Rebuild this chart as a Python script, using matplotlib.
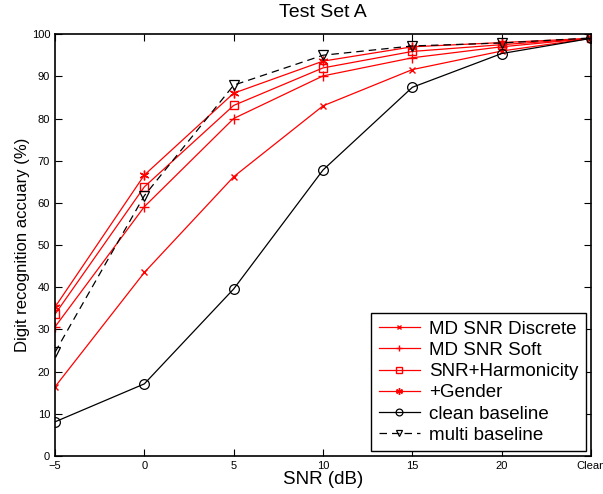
import matplotlib
matplotlib.use("Agg")
import matplotlib.pyplot as plt

plt.rcParams["font.family"] = ["Liberation Sans", "DejaVu Sans"]

snr = [-5, 0, 5, 10, 15, 20, 25]
snr_labels = ["\u22125", "0", "5", "10", "15", "20", "Clean"]

md_snr_discrete = [16.4, 43.5, 66.2, 83.0, 91.6, 96.0, 99.0]
md_snr_soft = [30.6, 59.1, 80.0, 90.1, 94.4, 97.0, 99.0]
snr_harmonicity = [33.6, 63.8, 83.1, 92.0, 95.9, 97.5, 99.0]
gender = [35.3, 66.6, 86.0, 93.6, 97.0, 98.0, 99.0]
clean_baseline = [8.1, 17.1, 39.6, 67.8, 87.4, 95.4, 99.0]
multi_baseline = [24.6, 61.7, 87.9, 95.0, 97.2, 97.9, 99.1]

fig = plt.figure(figsize=(6.03, 4.94), dpi=100)
ax = fig.add_axes([0.0912, 0.0769, 0.889, 0.854])

red = "#ff0000"
ax.plot(snr, md_snr_discrete, color=red, lw=0.9, marker="x", ms=5, mew=1.0, label="MD SNR Discrete")
ax.plot(snr, md_snr_soft, color=red, lw=0.9, marker="+", ms=7, mew=1.0, label="MD SNR Soft")
ax.plot(snr, snr_harmonicity, color=red, lw=0.9, marker="s", ms=6, mew=1.0, mfc="none", label="SNR+Harmonicity")
ax.plot(snr, gender, color=red, lw=0.9, marker=(6, 2, 0), ms=7, mew=1.0, label="+Gender")
ax.plot(snr, clean_baseline, color="k", lw=0.9, marker="o", ms=7, mew=0.9, mfc="none", label="clean baseline")
ax.plot(snr, multi_baseline, color="k", lw=0.9, ls=(0, (6, 4)), marker="v", ms=7, mew=0.9, mfc="none", label="multi baseline")

ax.set_xlim(-5, 25)
ax.set_ylim(0, 100)
ax.set_xticks(snr)
ax.set_xticklabels(snr_labels)
ax.set_yticks(range(0, 101, 10))
ax.tick_params(direction="in", top=True, right=True, labelsize=8, length=5, width=0.8)
for s in ax.spines.values():
    s.set_linewidth(1.2)

ax.set_title("Test Set A", fontsize=14, pad=12)
ax.set_xlabel("SNR (dB)", fontsize=13.5, labelpad=0)
ax.set_ylabel("Digit recognition accuary (%)", fontsize=12, labelpad=1)

leg = ax.legend(loc="lower right", fontsize=13.5, frameon=True, fancybox=False,
                edgecolor="k", framealpha=1, handlelength=2.2, borderpad=0.4,
                labelspacing=0.22, borderaxespad=0.25, handletextpad=0.5,
                markerscale=0.7)
leg.get_frame().set_linewidth(1.0)

fig.savefig("out.png", dpi=100)
